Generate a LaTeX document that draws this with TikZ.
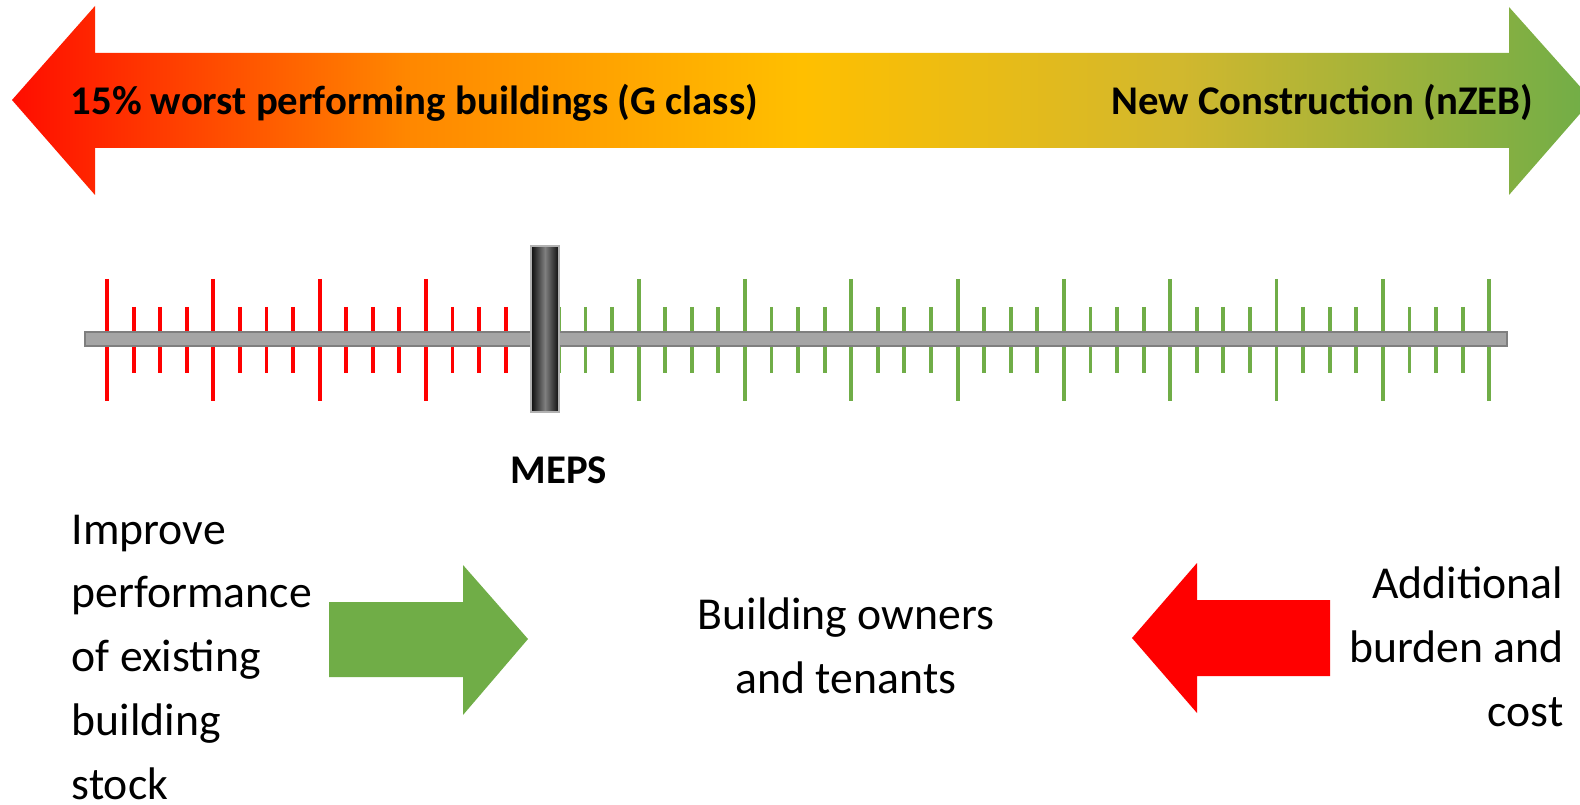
\documentclass[tikz,border=0pt]{standalone}
\usepackage{fontspec}
\setmainfont{Carlito}
\definecolor{mepsred}{HTML}{FF0000}
\definecolor{mepsgreen}{HTML}{70AD47}
\definecolor{bargray}{HTML}{A5A5A5}
\definecolor{baredge}{HTML}{7F7F7F}
\pgfdeclarehorizontalshading{redtogreen}{100bp}{rgb(0bp)=(1,0,0); rgb(25bp)=(1,0.05,0); rgb(37.5bp)=(1,0.53,0); rgb(50bp)=(1,0.75,0); rgb(62bp)=(0.82,0.72,0.18); rgb(75bp)=(0.44,0.68,0.28); rgb(100bp)=(0.44,0.68,0.28)}
\tikzset{
  toptext/.style={font=\bfseries\fontsize{11.6}{14}\selectfont, inner sep=0pt},
  bodytext/.style={font=\fontsize{13}{18.2}\selectfont, inner sep=0pt},
  ticklong/.style={line width=1.1pt},
}
\begin{document}
\begin{tikzpicture}[x=0.1mm,y=-0.1mm]
        \clip (0,0) rectangle (1580,805);
        %Mũi tên hai chiều
        \shade[shading=redtogreen] (12,100)--(95,6)--(95,53)--(1509,53)--(1509,7)--(1592,100)--(1509,195)--(1509,148)--(95,148)--(95,195)--cycle;
        \node[toptext, anchor=base west] (worst) at (70,115) {15\% worst performing buildings (G class)};
        \node[toptext, anchor=base east] (nzeb) at (1534,115) {New Construction (nZEB)};

        %Vạch chia đỏ
        \foreach \i in {0,...,15}{
          \pgfmathsetmacro\h{mod(\i,4)==0 ? 61 : 33}
          \draw[mepsred, line width=1.1pt] ({107+26.58*\i},{340-\h})--({107+26.58*\i},{340+\h});}
        %Vạch chia xanh
        \foreach \i in {17,...,52}{
          \pgfmathsetmacro\h{mod(\i,4)==0 ? 61 : 33}
          \draw[mepsgreen, line width=1.1pt] ({107+26.58*\i},{340-\h})--({107+26.58*\i},{340+\h});}

        %Thanh ngang
        \draw[draw=baredge, fill=bargray, line width=0.6pt] (85,332) rectangle (1507,346);
        %Con trượt
        \shade[left color=black!95, right color=black!95, middle color=gray] (531,246) rectangle (559,412);
        \draw[gray!60, line width=0.3pt] (531,246) rectangle (559,412);
        \node[toptext, anchor=base] (meps) at (559,483) {MEPS};

        %Mũi tên dưới
        \fill[mepsgreen] (329,602)--(463,602)--(463,565)--(528,639)--(463,715)--(463,677)--(329,677)--cycle;
        \fill[mepsred] (1330,600)--(1197,600)--(1197,563)--(1132,638)--(1197,713)--(1197,676)--(1330,676)--cycle;

        %Chữ
        \node[bodytext, align=left, anchor=north west] (improve) at (71,514) {Improve\\performance\\of existing\\building\\stock};
        \node[bodytext, align=center, anchor=north] (owners) at (846,597) {Building owners\\and tenants};
        \node[bodytext, align=right, anchor=north east] (burden) at (1564,566) {Additional\\burden and\\cost};
\end{tikzpicture}
\end{document}
